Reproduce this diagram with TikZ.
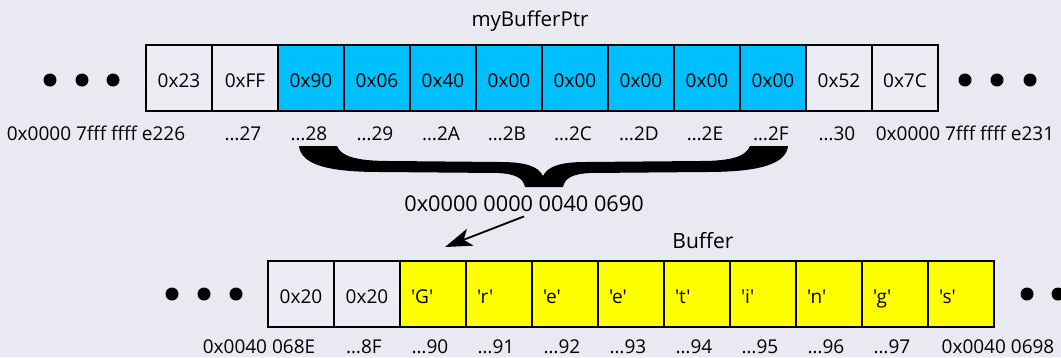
\documentclass[tikz,border=0pt]{standalone}
\usepackage{fontspec}
\setmainfont{Open Sans}[Ligatures=TeXOff]
\usetikzlibrary{arrows.meta}
\definecolor{bg}{RGB}{233,233,242}
\definecolor{cellwhite}{RGB}{236,236,244}
\definecolor{ptrblue}{RGB}{0,191,255}
\definecolor{bufyellow}{RGB}{255,255,0}
\begin{document}
\begin{tikzpicture}[x=1pt,y=-1pt,
  txt/.style={font=\fontsize{19}{22}\selectfont, inner sep=0pt},
  bigtxt/.style={font=\fontsize{21}{24}\selectfont, inner sep=0pt, anchor=base},
  cell/.style={txt, draw=black, line width=1.3pt, minimum width=66pt, minimum height=66pt,
    outer sep=0pt, text height=18.6pt, text depth=0pt, fill=cellwhite},
  bluecell/.style={cell, fill=ptrblue},
  yelcell/.style={cell, fill=bufyellow, text width=44pt, align=left, inner xsep=11pt},
  addr/.style={txt, anchor=base},
  dot/.style={circle, fill=black, inner sep=0pt, minimum size=13pt},
  ptrarrow/.style={line width=1.8pt, -{Stealth[length=27pt,width=18pt,inset=7pt]}}
]
\useasboundingbox (0,0) rectangle (1061,357);
\fill[bg] (0,0) rectangle (1061,357);

% top row
\node[bigtxt, font=\fontsize{20.5}{24}\selectfont] (title) at (530,26) {myBufferPtr};
\foreach \v [count=\i from 0] in {0x23,0xFF}
  \node[cell] (t\i) at (179+66*\i,78) {\v};
\foreach \v [count=\i from 2] in {0x90,0x06,0x40,0x00,0x00,0x00,0x00,0x00}
  \node[bluecell] (t\i) at (179+66*\i,78) {\v};
\foreach \v [count=\i from 10] in {0x52,0x7C}
  \node[cell] (t\i) at (179+66*\i,78) {\v};

\node[dot] (tl1) at (50,80) {};
\node[dot] (tl2) at (82,80) {};
\node[dot] (tl3) at (113,80) {};
\node[dot] (tr1) at (965,80) {};
\node[dot] (tr2) at (997,80) {};
\node[dot] (tr3) at (1030,80) {};

\node[addr] (la0) at (96,140) {0x0000 7fff ffff e226};
\foreach \v [count=\i from 1] in {27,28,29,2A,2B,2C,2D,2E,2F,30}
  \node[addr] (la\i) at (177+66*\i,140) {…\v};
\node[addr] (la11) at (965,140) {0x0000 7fff ffff e231};

% brace
\fill (299,146) -- (337,146) .. controls (341,156) and (355,161) .. (390,161)
  -- (500,162) .. controls (525,162) and (538,166) .. (543,176)
  .. controls (548,166) and (561,162) .. (586,162)
  -- (700,161) .. controls (733,161) and (746,156) .. (750,146)
  -- (788,146) .. controls (786,164) and (760,172) .. (706,172)
  -- (590,173) .. controls (572,174) and (565,178) .. (563,187)
  -- (525,187) .. controls (523,178) and (516,174) .. (498,173)
  -- (380,172) .. controls (326,172) and (301,164) .. (299,146) -- cycle;

\node[bigtxt, font=\fontsize{21.7}{25}\selectfont] (value) at (524,211) {0x0000 0000 0040 0690};
\coordinate (target) at (445,247);
\draw[ptrarrow] ([yshift=-5pt]value.south) -- (target);

% bottom row
\node[bigtxt] (buftitle) at (703,248) {Buffer};
\foreach \v [count=\i from 0] in {0x20,0x20}
  \node[cell] (b\i) at (301+66*\i,294) {\v};
\foreach \v [count=\i from 2] in {'G','r','e','e','t','i','n','g','s'}
  \node[yelcell] (b\i) at (301+66*\i,294) {\v};

\node[dot] (bl1) at (172,294) {};
\node[dot] (bl2) at (204,294) {};
\node[dot] (bl3) at (236,294) {};
\node[dot] (br1) at (1027,294) {};
\node[dot] (br2) at (1058,294) {};

\node[addr] (lb0) at (259,353) {0x0040 068E};
\foreach \v [count=\i from 1] in {8F,90,91,92,93,94,95,96,97}
  \node[addr] (lb\i) at (298+66*\i,353) {…\v};
\node[addr] (lb10) at (998,353) {0x0040 0698};
\end{tikzpicture}
\end{document}
